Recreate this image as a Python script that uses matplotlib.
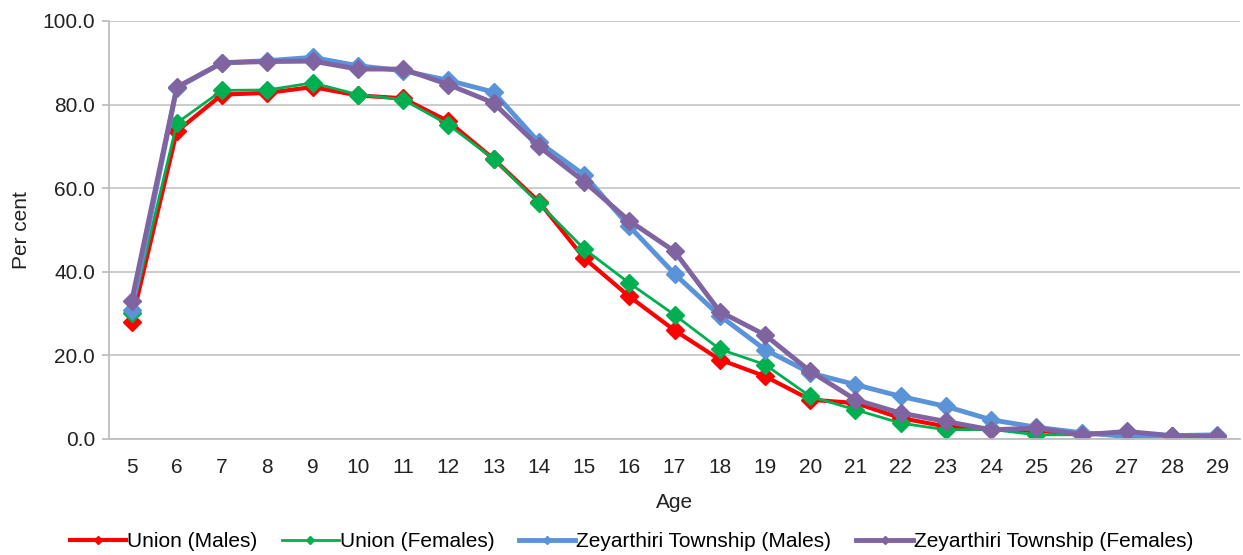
import matplotlib
matplotlib.use("Agg")
import matplotlib.pyplot as plt
from matplotlib.ticker import FormatStrFormatter

plt.rcParams['font.family'] = ['Liberation Sans', 'DejaVu Sans']

ages = list(range(5, 30))

union_males = [28.1, 73.6, 82.4, 82.8, 84.2, 82.2, 81.5, 76.0, 67.0, 56.8,
               43.3, 34.1, 26.0, 19.0, 15.0, 9.4, 8.6, 5.0, 3.0, 2.3,
               2.0, 1.2, 1.5, 0.8, 0.6]
union_females = [30.1, 75.6, 83.4, 83.5, 85.2, 82.4, 81.2, 75.2, 67.0, 56.4,
                 45.5, 37.3, 29.7, 21.5, 17.8, 10.2, 7.0, 3.8, 2.2, 2.3,
                 1.0, 1.0, 1.5, 0.8, 0.6]
zey_males = [30.9, 84.0, 90.0, 90.5, 91.3, 89.3, 88.1, 85.8, 83.0, 71.0,
             63.2, 50.9, 39.5, 29.5, 21.4, 15.8, 13.0, 10.2, 7.8, 4.6,
             2.8, 1.5, 0.6, 0.8, 1.0]
zey_females = [32.9, 84.2, 90.0, 90.3, 90.4, 88.5, 88.5, 84.8, 80.4, 70.0,
               61.6, 52.2, 44.9, 30.5, 24.9, 16.2, 9.4, 6.2, 4.2, 2.2,
               2.6, 1.0, 1.8, 0.8, 0.6]

series = [
    ("Union (Males)", union_males, "#FF0000", 3.0),
    ("Union (Females)", union_females, "#00B050", 2.0),
    ("Zeyarthiri Township (Males)", zey_males, "#5B93D8", 3.5),
    ("Zeyarthiri Township (Females)", zey_females, "#8064A2", 3.5),
]

fig, ax = plt.subplots(figsize=(12.43, 5.55), dpi=100)
fig.subplots_adjust(left=109 / 1243, right=1240 / 1243, top=1 - 21 / 555, bottom=1 - 439 / 555)

for label, vals, color, lw in series:
    ax.plot(ages, vals, color=color, lw=lw, marker="D", markersize=9,
            markeredgecolor=color, markeredgewidth=1, label=label)

ax.set_xlim(4.5, 29.5)
ax.set_ylim(0, 100)
ax.set_xticks(ages)
ax.set_yticks(range(0, 101, 20))
ax.yaxis.set_major_formatter(FormatStrFormatter("%.1f"))

ax.grid(axis="y", color="#C8C8C8", lw=1.3)
ax.set_axisbelow(True)
for side in ("top", "right"):
    ax.spines[side].set_visible(False)
for side in ("left", "bottom"):
    ax.spines[side].set_color("#BEBEBE")
    ax.spines[side].set_linewidth(1.3)

ax.tick_params(axis="y", length=5, color="#BEBEBE", width=1.3, labelsize=15,
               labelcolor="#222222", pad=5)
ax.tick_params(axis="x", length=0, labelsize=15, labelcolor="#222222", pad=14)

ax.set_ylabel("Per cent", fontsize=15, color="#222222", labelpad=8)
ax.set_xlabel("Age", fontsize=15, color="#222222", labelpad=11)

fig.legend(loc="center", bbox_to_anchor=(0.508, 0.024), ncol=4, frameon=False,
           fontsize=15, handlelength=2.7, handletextpad=0.05, columnspacing=1.2,
           markerscale=0.5)

fig.savefig("out.png", dpi=100)
